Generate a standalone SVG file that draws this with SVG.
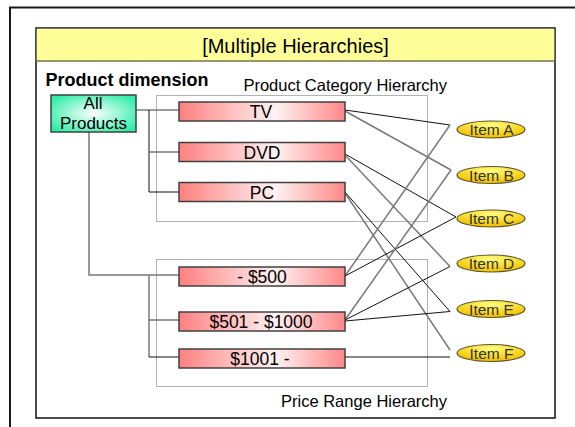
<svg xmlns="http://www.w3.org/2000/svg" width="575" height="427" viewBox="0 0 575 427">
  <style>
    text { font-family: "Liberation Sans", Arial, sans-serif; fill: #000; }
    .title { font-size: 20px; text-anchor: middle; }
    .dim { font-size: 18px; font-weight: bold; }
    .caption { font-size: 16.5px; text-anchor: end; }
    .lbl { font-size: 17.5px; text-anchor: middle; }
    .item { font-size: 15.5px; text-anchor: middle; fill: #333; }
    .bar { fill: url(#pinkGrad); stroke: #404040; stroke-width: 1.5; }
    .oval { fill: url(#goldGrad); stroke: #5a5530; stroke-width: 1.2; }
    .group { fill: none; stroke: #666; stroke-width: 1; stroke-dasharray: 1 1; }
    .gray { fill: none; stroke: #7a7a7a; stroke-width: 1.5; }
    .dark { fill: none; stroke: #111; stroke-width: 1; }
  </style>
  <defs>
    <linearGradient id="pinkGrad" x1="0" y1="0" x2="1" y2="0">
      <stop offset="0" stop-color="#ff8080"/>
      <stop offset="0.58" stop-color="#fff2f2"/>
      <stop offset="1" stop-color="#ff8888"/>
    </linearGradient>
    <radialGradient id="greenGrad" cx="0.5" cy="0.5" r="0.6">
      <stop offset="0" stop-color="#ffffff"/>
      <stop offset="1" stop-color="#33eeaa"/>
    </radialGradient>
    <radialGradient id="goldGrad" cx="0.5" cy="0.25" r="0.65">
      <stop offset="0" stop-color="#ffff80"/>
      <stop offset="1" stop-color="#f5c400"/>
    </radialGradient>
  </defs>

  <!-- page frame -->
  <rect x="0" y="0" width="575" height="427" fill="#fff"/>
  <path d="M10,430 V7.5 H580" fill="none" stroke="#1a1a1a" stroke-width="2"/>

  <!-- panel with title band -->
  <rect x="36" y="28" width="519" height="390" fill="#fff" stroke="#111" stroke-width="1.5"/>
  <rect x="36.75" y="28.75" width="517.5" height="32" fill="#ffff99"/>
  <line x1="36.75" y1="61" x2="554.25" y2="61" stroke="#7a7440" stroke-width="1.5"/>
  <text class="title" x="295.5" y="53">[Multiple Hierarchies]</text>
  <text class="dim" x="45.5" y="86">Product dimension</text>

  <!-- hierarchy groupings -->
  <rect class="group" x="156.5" y="95.5" width="271" height="126"/>
  <text class="caption" x="447" y="91">Product Category Hierarchy</text>
  <rect class="group" x="156.5" y="259.5" width="271" height="127"/>
  <text class="caption" x="447" y="407">Price Range Hierarchy</text>

  <!-- connectors -->
  <g id="connectors">
    <!-- tree: All Products to categories -->
    <path class="gray" d="M136,110 H179"/>
    <path class="dark" d="M149,110 V192 H179"/>
    <path class="gray" d="M149,152 H179"/>
    <!-- tree: All Products to price ranges -->
    <path class="gray" d="M89,132 V275 H179"/>
    <path class="gray" d="M149,275 V357"/>
    <path class="gray" d="M149,320 H179"/>
    <path class="dark" d="M149,357 H179"/>
    <!-- categories to items -->
    <line class="dark" x1="345" y1="110" x2="450" y2="125"/>
    <line class="gray" x1="345" y1="111" x2="451" y2="170"/>
    <line class="dark" x1="345" y1="154" x2="456" y2="217"/>
    <line class="gray" x1="345" y1="155" x2="450" y2="266.5"/>
    <line class="dark" x1="345" y1="192" x2="450" y2="311.5"/>
    <line class="gray" x1="345" y1="193" x2="450" y2="350"/>
    <!-- price ranges to items -->
    <line class="gray" x1="345" y1="276" x2="450" y2="125"/>
    <line class="dark" x1="345" y1="276" x2="456" y2="217"/>
    <line class="gray" x1="345" y1="320" x2="451" y2="170"/>
    <line class="dark" x1="345" y1="320" x2="450" y2="266.5"/>
    <line class="dark" x1="345" y1="321" x2="450" y2="311.5"/>
    <line class="dark" x1="345" y1="357" x2="450" y2="357"/>
  </g>

  <!-- root node -->
  <g id="node-all-products">
    <rect x="51" y="95" width="85" height="37" fill="url(#greenGrad)" stroke="#404040" stroke-width="1.5"/>
    <text class="lbl" x="93" y="109" style="font-size:17px">All</text>
    <text class="lbl" x="93.5" y="129" style="font-size:17px">Products</text>
  </g>

  <!-- category nodes -->
  <g id="node-tv">
    <rect class="bar" x="179" y="102" width="166" height="19"/>
    <text class="lbl" x="261" y="118">TV</text>
  </g>
  <g id="node-dvd">
    <rect class="bar" x="179" y="142.5" width="166" height="19"/>
    <text class="lbl" x="262" y="158.5">DVD</text>
  </g>
  <g id="node-pc">
    <rect class="bar" x="179" y="182.5" width="166" height="19"/>
    <text class="lbl" x="262" y="198.5">PC</text>
  </g>

  <!-- price range nodes -->
  <g id="node-price-500">
    <rect class="bar" x="179" y="267" width="166" height="19"/>
    <text class="lbl" x="262" y="283">- $500</text>
  </g>
  <g id="node-price-501-1000">
    <rect class="bar" x="179" y="312" width="166" height="19"/>
    <text class="lbl" x="261" y="328">$501 - $1000</text>
  </g>
  <g id="node-price-1001">
    <rect class="bar" x="179" y="349" width="166" height="19"/>
    <text class="lbl" x="260" y="365">$1001 -</text>
  </g>

  <!-- item nodes -->
  <g id="node-item-a">
    <ellipse class="oval" cx="491" cy="129.5" rx="34" ry="8.5"/>
    <text class="item" x="491.5" y="135">Item A</text>
  </g>
  <g id="node-item-b">
    <ellipse class="oval" cx="491" cy="175" rx="34" ry="8.5"/>
    <text class="item" x="491.5" y="180.5">Item B</text>
  </g>
  <g id="node-item-c">
    <ellipse class="oval" cx="491" cy="218.5" rx="34" ry="8.5"/>
    <text class="item" x="491.5" y="224">Item C</text>
  </g>
  <g id="node-item-d">
    <ellipse class="oval" cx="491" cy="263.5" rx="34" ry="8.5"/>
    <text class="item" x="491.5" y="269">Item D</text>
  </g>
  <g id="node-item-e">
    <ellipse class="oval" cx="491" cy="309" rx="34" ry="8.5"/>
    <text class="item" x="491.5" y="314.5">Item E</text>
  </g>
  <g id="node-item-f">
    <ellipse class="oval" cx="491" cy="353" rx="34" ry="8.5"/>
    <text class="item" x="491.5" y="358.5">Item F</text>
  </g>
</svg>
